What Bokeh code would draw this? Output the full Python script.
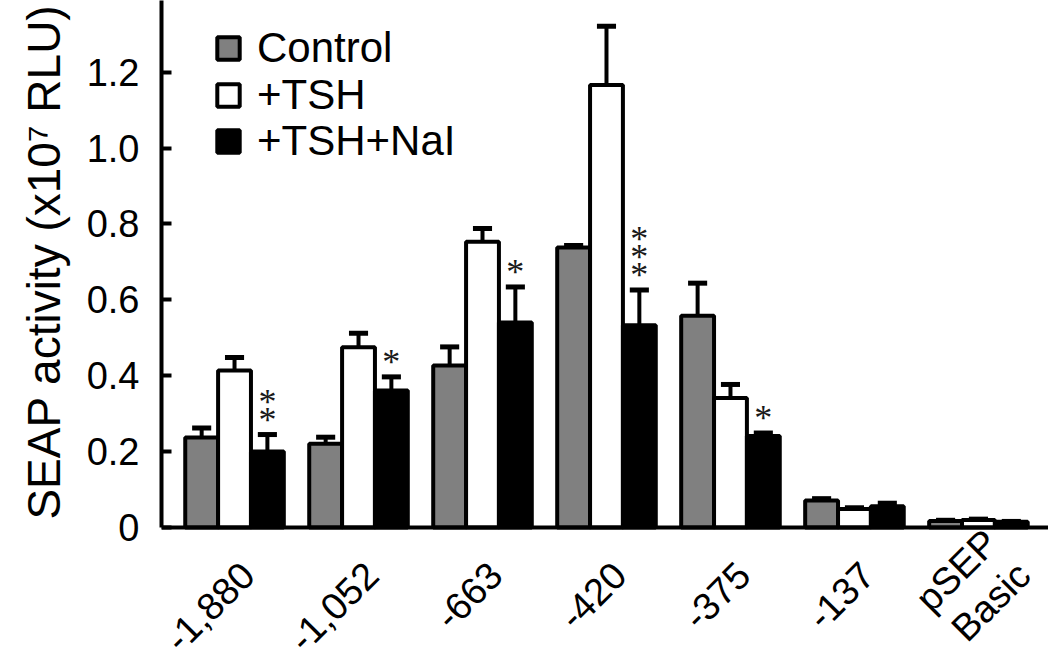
import math
from bokeh.plotting import figure
from bokeh.models import (ColumnDataSource, FixedTicker, CustomJSTickFormatter,
                          Legend, LegendItem, Range1d, Span, Title)
from bokeh.core.properties import value
from bokeh.embed import file_html
from bokeh.resources import INLINE

# ---------------- data ----------------
constructs = ["-1,880", "-1,052", "-663", "-420", "-375", "-137", "pSEP\nBasic"]
control = [0.237, 0.221, 0.427, 0.738, 0.558, 0.071, 0.017]
control_err = [0.025, 0.017, 0.049, 0.005, 0.086, 0.005, 0.002]
tsh = [0.414, 0.475, 0.753, 1.166, 0.341, 0.049, 0.020]
tsh_err = [0.034, 0.037, 0.035, 0.155, 0.036, 0.003, 0.002]
nai = [0.200, 0.361, 0.540, 0.533, 0.241, 0.056, 0.015]
nai_err = [0.045, 0.036, 0.094, 0.093, 0.008, 0.008, 0.001]
significance = ["**", "*", "*", "***", "*", "", ""]
series_names = ["Control", "+TSH", "+TSH+NaI"]
y_ticks = [0, 0.2, 0.4, 0.6, 0.8, 1.0, 1.2]
y_title = "SEAP activity (x10\u2077 RLU)"

FONT = "Liberation Sans"
BAR_W = 0.265
offsets = [-BAR_W, 0.0, BAR_W]
fills = ["#808080", "#ffffff", "#000000"]
CAP = 0.077
PX_PER_UNIT = 379.4
W, H = 1048, 662
Y_TOP = 527 / PX_PER_UNIT
Y_BOTTOM = Y_TOP - H / PX_PER_UNIT   # room below the baseline for the slanted labels

p = figure(width=W, height=H,
           x_range=Range1d(-0.589, 6.565), y_range=Range1d(Y_BOTTOM, Y_TOP),
           x_axis_location=None,
           output_backend="svg", toolbar_location=None,
           min_border_left=161, min_border_right=0, min_border_top=0,
           min_border_bottom=0)
p.outline_line_color = None
p.xgrid.grid_line_color = None
p.ygrid.grid_line_color = None
p.background_fill_color = "white"
p.border_fill_color = "white"

groups = list(range(len(constructs)))
renderers = []
for vals, errs, off, fc in zip([control, tsh, nai], [control_err, tsh_err, nai_err], offsets, fills):
    xs = [g + off for g in groups]
    src = ColumnDataSource(dict(x=xs, top=vals, err_top=[v + e for v, e in zip(vals, errs)],
                                cl=[x - CAP for x in xs], cr=[x + CAP for x in xs]))
    r = p.vbar(x="x", top="top", bottom=0, width=BAR_W, source=src,
               fill_color=fc, line_color="black", line_width=4)
    renderers.append(r)
    p.segment(x0="x", y0="top", x1="x", y1="err_top", source=src,
              line_color="black", line_width=4)
    p.segment(x0="cl", y0="err_top", x1="cr", y1="err_top", source=src,
              line_color="black", line_width=5)

# baseline (x axis line)
p.add_layout(Span(location=0, dimension="width", line_color="black", line_width=4))

# slanted category labels under the baseline (two-line labels nudged along the slant)
n_lines = [lbl.count("\n") for lbl in constructs]
p.text(x=groups, y=[0] * len(groups), text=constructs, angle=math.pi / 4,
       x_offset=[13 + 16 * n for n in n_lines], y_offset=[41 - 16 * n for n in n_lines],
       text_align="right", text_baseline="middle",
       text_font=value(FONT), text_font_size="38px", text_color="black",
       text_line_height=1.1)

# significance asterisks above +TSH+NaI bars
ax, ay, ayo = [], [], []
for g, s in enumerate(significance):
    for k in range(len(s)):
        ax.append(g + offsets[2])
        ay.append(nai[g] + nai_err[g])
        ayo.append(-(15 + 18 * k))
p.text(x="x", y="y", y_offset="yo", text=value("*"),
       source=ColumnDataSource(dict(x=ax, y=ay, yo=ayo)),
       text_font=value("Liberation Serif"), text_font_size="36px",
       text_align="center", text_baseline="middle", text_color="#1a1a1a")

# legend: one box per row so the rows can sit as tightly as in the original
LEG_FS = 42
half_row = 0.585 * LEG_FS
row_centers = [47.5, 94.0, 140.5]
for name, r, cy in zip(series_names, renderers, row_centers):
    lg = Legend(items=[LegendItem(label=name, renderers=[r])],
                location=(53, H - cy - half_row), orientation="vertical",
                glyph_width=28, glyph_height=28, label_standoff=15,
                padding=0, margin=0, border_line_color=None,
                background_fill_alpha=0,
                label_text_font=FONT, label_text_font_size=f"{LEG_FS}px",
                label_text_color="black")
    p.add_layout(lg)

# y axis
ya = p.yaxis[0]
ya.bounds = (0, Y_TOP)
ya.ticker = FixedTicker(ticks=y_ticks)
ya.formatter = CustomJSTickFormatter(code="return tick == 0 ? '0' : tick.toFixed(1);")
ya.major_tick_in = 10
ya.major_tick_out = 0
ya.major_tick_line_width = 4
ya.minor_tick_line_color = None
ya.axis_line_width = 4
ya.axis_line_color = "black"
ya.major_label_text_font = FONT
ya.major_label_text_font_size = "38px"
ya.major_label_text_color = "black"
ya.major_label_standoff = 22

# y-axis title, placed along the upper part of the axis as in the original
p.add_layout(Title(text=y_title, align="right", offset=4, standoff=27,
                   text_font=FONT, text_font_size="46px", text_font_style="normal",
                   text_color="black"), "left")

open("out.html", "w").write(file_html(p, INLINE))
